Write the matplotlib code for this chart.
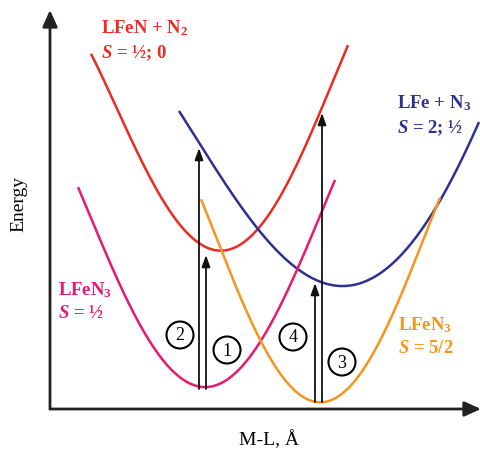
import numpy as np
import matplotlib
matplotlib.use("Agg")
import matplotlib.pyplot as plt
from matplotlib.patches import FancyArrowPatch, Circle

plt.rcParams['mathtext.fontset'] = 'custom'
plt.rcParams['mathtext.rm'] = 'Liberation Serif:bold'
plt.rcParams['mathtext.bf'] = 'Liberation Serif:bold'
plt.rcParams['mathtext.it'] = 'Liberation Serif:bold:italic'

# ---- data (M-L distance, energy) ----
red_x = [41, 60, 93, 120, 150, 173, 207, 230, 270, 298]
red_e = [357, 312, 246, 202, 162, 156, 182, 212, 296, 364]

blue_x = [129, 150, 177, 207, 247, 287, 330, 380, 410, 429]
blue_e = [299, 262, 226, 179, 142, 122, 136, 192, 246, 287]

pink_x = [28, 63, 110, 153, 210, 233, 247, 270, 285]
pink_e = [222, 139, 54, 20, 69, 109, 137, 194, 229]

orange_x = [151, 173, 210, 240, 270, 307, 340, 367, 390]
orange_e = [209, 156, 69, 22, 7, 32, 89, 152, 212]

arrow_x = [149, 156, 265, 272]
arrow_from = [20, 20, 7, 7]
arrow_to = [261, 154, 126, 296]

circle_labels = ['2', '1', '4', '3']
circle_x = [130, 177, 243, 292]
circle_e = [74, 59, 72, 47]

colors = {'red': '#ee2a24', 'blue': '#2e3192', 'pink': '#e8196e', 'orange': '#f7941d'}

fig = plt.figure(figsize=(4.81, 4.51), dpi=100)
ax = fig.add_axes([0, 0, 1, 1])
ax.set_xlim(-50, 431)
ax.set_ylim(-42, 409)
ax.axis('off')

def smooth(xs, es, deg=4):
    c = np.polyfit(xs, es, deg)
    xx = np.linspace(min(xs), max(xs), 300)
    return xx, np.polyval(c, xx)

for xs, es, col in [(red_x, red_e, 'red'), (blue_x, blue_e, 'blue'),
                    (pink_x, pink_e, 'pink'), (orange_x, orange_e, 'orange')]:
    xx, yy = smooth(xs, es)
    ax.plot(xx, yy, color=colors[col], lw=1.8, solid_capstyle='butt', zorder=2)

# axes arrows
for start, end in [((0, 0), (0, 399)), ((0, 0), (431, 0))]:
    ax.add_patch(FancyArrowPatch(start, end, arrowstyle='-|>,head_length=1.0,head_width=0.45',
                                 mutation_scale=10, lw=2.0, color='#222222',
                                 shrinkA=0, shrinkB=0, zorder=4))

# transition arrows
for x, e0, e1 in zip(arrow_x, arrow_from, arrow_to):
    ax.add_patch(FancyArrowPatch((x, e0), (x, e1), arrowstyle='-|>,head_length=0.7,head_width=0.25',
                                 mutation_scale=10, lw=1.3, color='#111111',
                                 shrinkA=0, shrinkB=0, zorder=3))

for lab, x, e in zip(circle_labels, circle_x, circle_e):
    ax.add_patch(Circle((x, e), 13.5, facecolor='white', edgecolor='black', lw=1.5, zorder=5))
    ax.text(x, e - 1, lab, ha='center', va='center', fontsize=13,
            family='Liberation Serif', zorder=6)

fs = 13.5
tp = dict(family='Liberation Serif', fontweight='bold', fontsize=fs, va='baseline')
ax.text(51, 376, r'LFeN + N$_2$', color=colors['red'], **tp)
ax.text(51, 351, r'$S$ = ½; 0', color=colors['red'], **tp)
ax.text(347, 301, r'LFe + N$_3$', color=colors['blue'], **tp)
ax.text(347, 276, r'$S$ = 2; ½', color=colors['blue'], **tp)
ax.text(8, 114, r'LFeN$_3$', color=colors['pink'], **tp)
ax.text(8, 91, r'$S$ = ½', color=colors['pink'], **tp)
ax.text(348, 79, r'LFeN$_3$', color=colors['orange'], **tp)
ax.text(348, 56, r'$S$ = 5/2', color=colors['orange'], **tp)

ax.text(-31, 205, 'Energy', rotation=90, ha='center', va='center',
        family='Liberation Serif', fontsize=14)
ax.text(219, -31, 'M-L, Å', ha='center', va='center',
        family='Liberation Serif', fontsize=14)

fig.savefig('out.png', dpi=100)
